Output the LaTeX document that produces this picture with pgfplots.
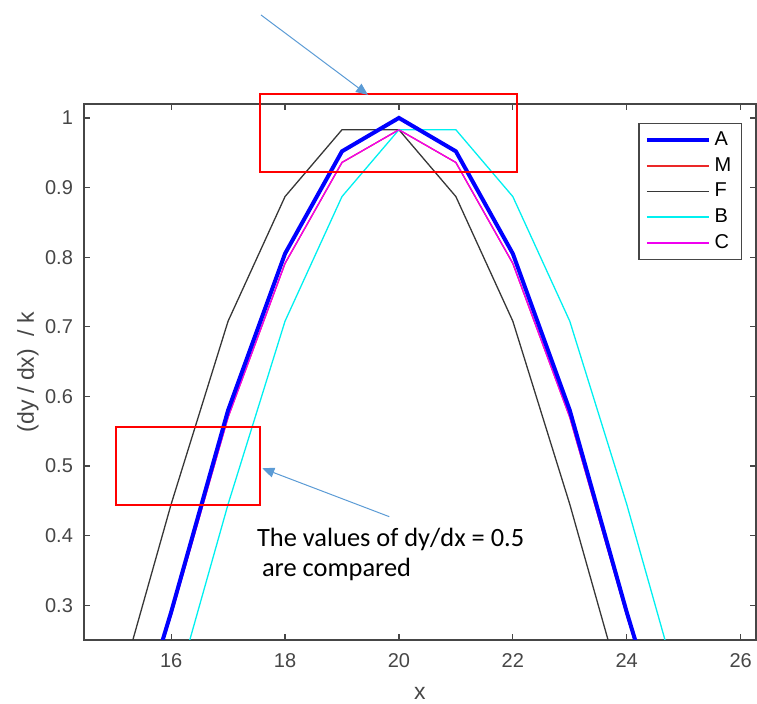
\documentclass[border=0pt]{standalone}
\usepackage{fontspec}
\setmainfont{Liberation Sans}
\newfontfamily\calibri{Carlito}
\usepackage{pgfplots}
\pgfplotsset{compat=1.18}
\usetikzlibrary{arrows.meta}
\definecolor{axgray}{RGB}{70,70,70}
\definecolor{arrowblue}{RGB}{91,155,213}
\definecolor{lineblack}{RGB}{55,55,55}
\definecolor{mblue}{RGB}{0,0,255}
\definecolor{mred}{RGB}{235,40,40}
\definecolor{mcyan}{RGB}{0,240,240}
\definecolor{mmag}{RGB}{240,0,240}

\begin{document}
\begin{tikzpicture}
\path[use as bounding box] (-42pt,-32pt) rectangle (336.5pt,320pt);
\begin{axis}[
  at={(0,0)}, anchor=south west,
  scale only axis, width=336pt, height=268pt,
  xmin=14.47, xmax=26.27, ymin=0.25, ymax=1.02,
  xtick={16,18,20,22,24,26},
  ytick={0.3,0.4,0.5,0.6,0.7,0.8,0.9,1},
  tick align=inside, major tick length=3pt,
  axis line style={axgray, line width=0.6pt},
  tick style={axgray, line width=0.6pt},
  tick label style={font=\fontsize{10}{12}\selectfont, text=axgray},
  /pgf/number format/assume math mode=true,
  yticklabel style={/pgf/number format/fixed, /pgf/number format/precision=1, xshift=-2pt},
  xticklabel style={yshift=-3pt},
  xlabel={x}, ylabel={(dy / dx)\ \ / k},
  label style={font=\fontsize{11.5}{13}\selectfont, text=axgray},
  xlabel style={at={(axis description cs:0.5,-0.1)}, anchor=center},
  ylabel style={at={(axis description cs:-0.0833,0.5)}, anchor=center},
  legend style={at={(axis description cs:0.979,0.9646)}, anchor=north east,
    draw=axgray, line width=0.6pt, font=\fontsize{10}{12}\selectfont,
    inner xsep=3pt, inner ysep=2pt, row sep=0.5pt},
  legend cell align=left,
  legend image code/.code={\draw[#1] (0pt,0pt) -- (31pt,0pt);},
]
\addlegendimage{draw=mblue, line width=1.8pt}\addlegendentry{A}
\addlegendimage{draw=mred, line width=0.9pt}\addlegendentry{M}
\addlegendimage{draw=lineblack, line width=0.8pt}\addlegendentry{F}
\addlegendimage{draw=mcyan, line width=0.9pt}\addlegendentry{B}
\addlegendimage{draw=mmag, line width=0.9pt}\addlegendentry{C}

% M
\addplot[mred, line width=0.65pt, forget plot] coordinates {
(15,0.02) (16,0.285) (17,0.57) (18,0.791) (19,0.936) (20,0.983)
(21,0.936) (22,0.791) (23,0.57) (24,0.285) (25,0.02)};
% F
\addplot[lineblack, line width=0.65pt, forget plot] coordinates {
(14,-0.12) (15,0.155) (16,0.445) (17,0.708) (18,0.887) (19,0.983) (20,0.983)
(21,0.887) (22,0.708) (23,0.445) (24,0.155) (25,-0.12)};
% B
\addplot[mcyan, line width=0.65pt, forget plot] coordinates {
(15,-0.12) (16,0.155) (17,0.445) (18,0.708) (19,0.887) (20,0.983) (21,0.983)
(22,0.887) (23,0.708) (24,0.445) (25,0.155) (26,-0.12)};
% C
\addplot[mmag, line width=0.65pt, forget plot] coordinates {
(15,0.02) (16,0.285) (17,0.57) (18,0.791) (19,0.936) (20,0.983)
(21,0.936) (22,0.791) (23,0.57) (24,0.285) (25,0.02)};
% A
\addplot[mblue, line width=2pt, forget plot] coordinates {
(15,0.02) (16,0.29) (17,0.58) (18,0.805) (19,0.952) (20,1)
(21,0.952) (22,0.805) (23,0.58) (24,0.29) (25,0.02)};
\end{axis}

\draw[red, line width=1pt] (88pt,273pt) rectangle (216.5pt,234pt);
\draw[red, line width=1pt] (16pt,106.5pt) rectangle (88.15pt,67.35pt);
\draw[arrowblue, line width=0.5pt, -{Triangle[length=6pt,width=5pt]}] (88.5pt,312.5pt) -- (142pt,272.5pt);
\draw[arrowblue, line width=0.5pt, -{Triangle[length=6pt,width=5pt]}] (152.65pt,61.65pt) -- (89.15pt,85.85pt);
\node[anchor=base west, font=\calibri\fontsize{13.2}{15}\selectfont, inner sep=0pt] at (86.35pt,46.65pt) {The values of dy/dx = 0.5};
\node[anchor=base west, font=\calibri\fontsize{13.2}{15}\selectfont, inner sep=0pt] at (88.85pt,31.65pt) {are compared};
\end{tikzpicture}
\end{document}
